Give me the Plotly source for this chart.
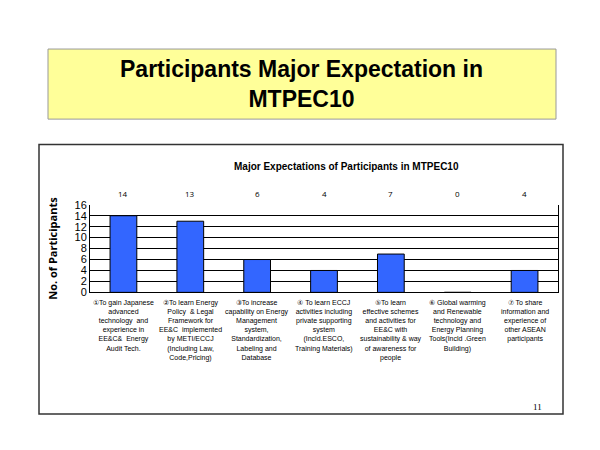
import plotly.graph_objects as go

categories = [
    "①To gain Japanese<br>advanced<br>technology  and<br>experience in<br>EE&C&  Energy<br>Audit Tech.",
    "②To learn Energy<br>Policy  & Legal<br>Framework for<br>EE&C  implemented<br>by METI/ECCJ<br>(Including Law,<br>Code,Pricing)",
    "③To increase<br>capability on Energy<br>Management<br>system,<br>Standardization,<br>Labeling and<br>Database",
    "④ To learn ECCJ<br>activities including<br>private supporting<br>system<br>(Incld.ESCO,<br>Training Materials)",
    "⑤To learn<br>effective schemes<br>and activities for<br>EE&C with<br>sustainability & way<br>of awareness for<br>people",
    "⑥ Global warming<br>and Renewable<br>technology and<br>Energy Planning<br>Tools(Incld .Green<br>Building)",
    "⑦ To share<br>information and<br>experience of<br>other ASEAN<br>participants",
]
values = [14, 13, 6, 4, 7, 0, 4]
xs = list(range(len(values)))

# the page is drawn with a small offset, so positions are shifted a little
def px(x):
    return (x - 7) / 600

def py(y):
    return 1 - (y - 9) / 450

fig = go.Figure(go.Bar(
    x=xs, y=values, width=0.4,
    marker=dict(color="#3366FF", line=dict(color="black", width=1)),
))

for x, v, c in zip(xs, values, categories):
    fig.add_annotation(x=x, y=py(193), xref="x", yref="paper", text=str(v),
                       showarrow=False, font=dict(size=8, color="black"))
    fig.add_annotation(x=x, y=py(300), xref="x", yref="paper", text=c, yanchor="top",
                       showarrow=False, align="center",
                       font=dict(size=7, color="black", family="Liberation Sans Narrow, Arial Narrow, sans-serif"))

fig.add_shape(type="rect", xref="paper", yref="paper", x0=px(47), x1=px(555),
              y0=py(117), y1=py(45), fillcolor="#FFFF99",
              line=dict(color="#999999", width=1), layer="below")
fig.add_shape(type="rect", xref="paper", yref="paper", x0=px(38), x1=px(562),
              y0=py(420), y1=py(143), fillcolor="white",
              line=dict(color="#333333", width=1.5), layer="below")

fig.add_annotation(x=0.5 - 7 / 600, y=py(81), xref="paper", yref="paper", yanchor="middle",
                   text="<b>Participants Major Expectation in<br>MTPEC10</b>",
                   showarrow=False, font=dict(size=23, color="black", family="Arial"))
fig.add_annotation(x=px(345), y=py(158), xref="paper", yref="paper",
                   text="<b>Major Expectations of Participants in MTPEC10</b>",
                   showarrow=False, font=dict(size=10, color="black", family="Liberation Sans Narrow, sans-serif"))
fig.add_annotation(x=px(543), y=py(420), xref="paper", yref="paper", text="11",
                   showarrow=False, font=dict(size=9, color="black", family="Liberation Serif"))

fig.update_layout(
    width=600, height=450, margin=dict(l=0, r=0, t=0, b=0),
    paper_bgcolor="white", plot_bgcolor="white", showlegend=False,
    xaxis=dict(domain=[px(89), px(557)], range=[-0.5, 6.5], showticklabels=False,
               ticks="", showline=True, linecolor="black", showgrid=False),
    yaxis=dict(domain=[py(295), py(205)], range=[0, 16], dtick=2,
               showgrid=True, gridcolor="black", gridwidth=1,
               showline=True, linecolor="black", mirror=True,
               tickfont=dict(size=11, color="black", family="Liberation Sans Narrow, sans-serif"),
               title=dict(text="<b>No. of Participants</b>",
                          font=dict(size=11, color="black"), standoff=14)),
)

fig.write_html("out.html")
